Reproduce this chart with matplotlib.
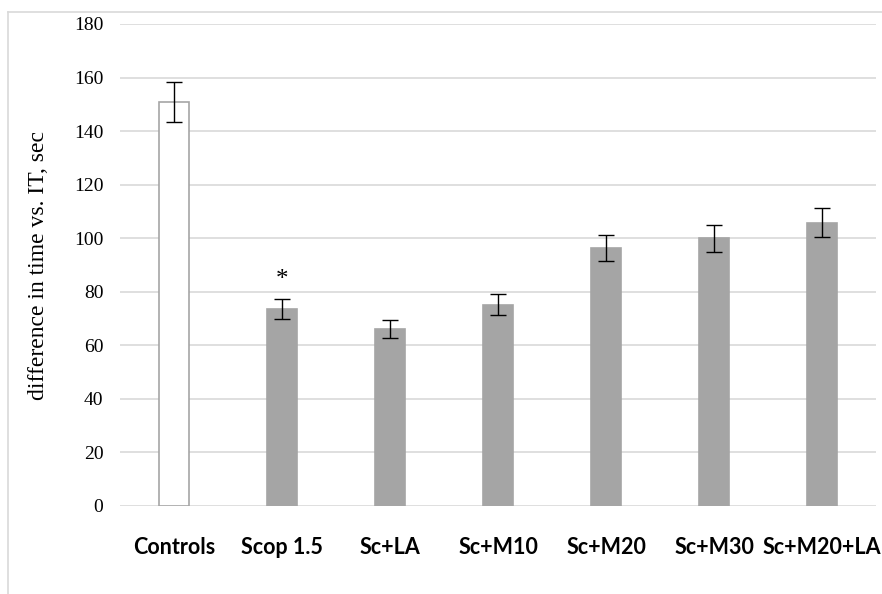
import matplotlib.pyplot as plt
from matplotlib.lines import Line2D

##### data
groups = ['Controls', 'Scop 1.5', 'Sc+LA', 'Sc+M10', 'Sc+M20', 'Sc+M30', 'Sc+M20+LA']
means = [150.8, 73.5, 66.1, 75.1, 96.3, 100.0, 105.8]
errs = [7.5, 3.7, 3.4, 3.9, 4.9, 5.0, 5.4]
yticks = [0, 20, 40, 60, 80, 100, 120, 140, 160, 180]

gray = '#A5A5A5'
grid = '#D9D9D9'

fig = plt.figure(figsize=(8.82, 5.94), dpi=100)
ax = fig.add_axes([120/882, (594-506)/594, 756/882, 482/594])

x = list(range(len(groups)))
face = ['white'] + [gray]*(len(groups)-1)
ax.bar(x, means, width=0.27, color=face, edgecolor=gray, linewidth=1.2, zorder=2)
ax.errorbar(x, means, yerr=errs, fmt='none', ecolor='black', elinewidth=1.0,
            capsize=6, capthick=1.0, zorder=3)

# significance mark
ax.text(1, 84.5, '*', ha='center', va='center', fontsize=18, family='Liberation Serif')

ax.set_xlim(-0.5, len(groups)-0.5)
ax.set_ylim(0, 180)
ax.set_yticks(yticks)
ax.yaxis.grid(True, color=grid, linewidth=1.2, zorder=0)
ax.set_axisbelow(True)
for s in ax.spines.values():
    s.set_visible(False)
ax.tick_params(axis='both', length=0)
ax.tick_params(axis='y', pad=12, labelsize=14)
ax.tick_params(axis='x', pad=22)
for t in ax.get_yticklabels():
    t.set_family('Liberation Serif')
ax.set_xticks(x)
ax.set_xticklabels(groups, fontsize=15.5, fontweight='bold', family='Lato')
ax.set_ylabel('difference in time vs. IT, sec', fontsize=17, family='Liberation Serif', labelpad=18)

# chart border (cropped)
fig.add_artist(Line2D([8/882, 1], [1-12/594, 1-12/594], transform=fig.transFigure, color=grid, lw=1.2))
fig.add_artist(Line2D([8/882, 8/882], [0, 1-12/594], transform=fig.transFigure, color=grid, lw=1.2))

fig.savefig('out.png', dpi=100)
